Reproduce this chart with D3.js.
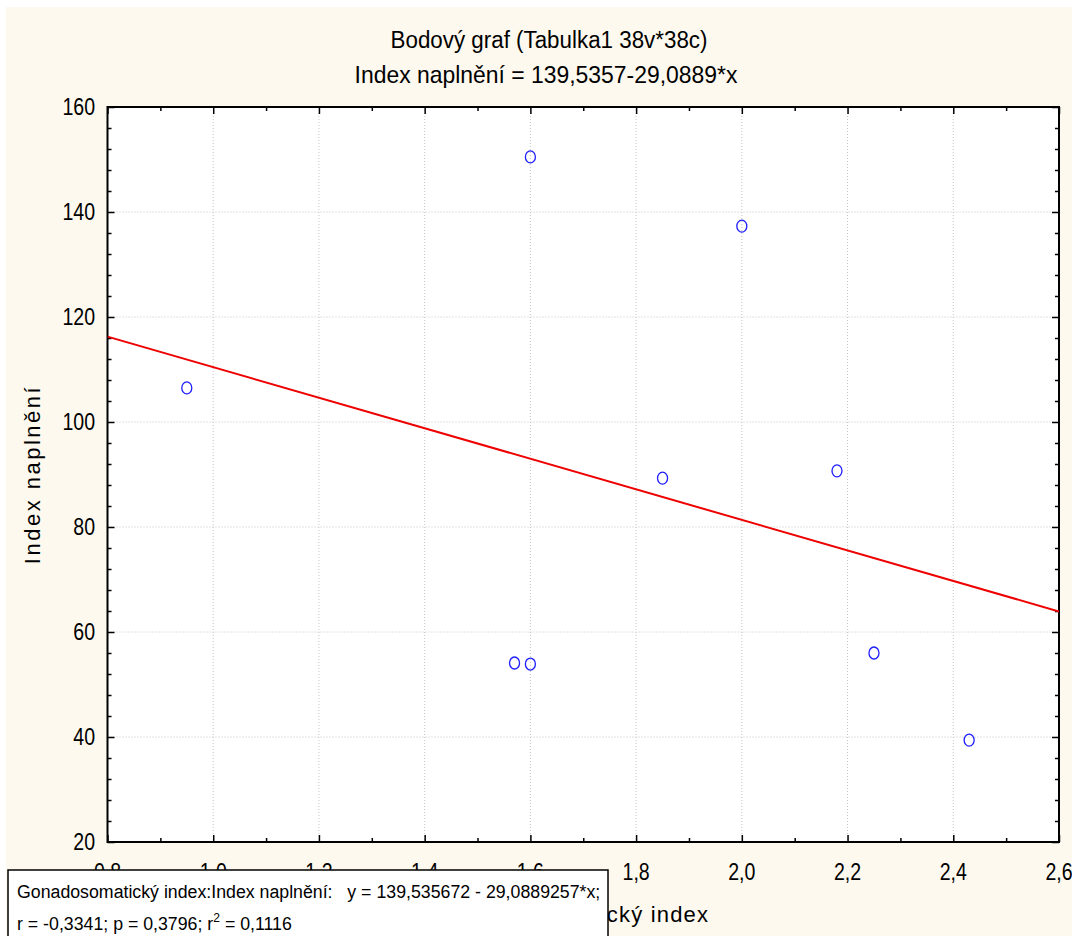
<!DOCTYPE html>
<html>
<head>
<meta charset="utf-8">
<script src="https://cdn.jsdelivr.net/npm/d3@7"></script>
<style>
  body { margin: 0; background: #ffffff; }
  svg { display: block; }
  text { font-family: "Liberation Sans", Arial, sans-serif; fill: #000; }
</style>
</head>
<body>
<div id="chart"></div>
<script>
// Data.
const gsiValues = [0.95, 1.6, 2.0, 1.85, 2.18, 1.57, 1.6, 2.25, 2.43];
const fillValues = [106.5, 150.5, 137.3, 89.3, 90.7, 54.1, 53.9, 56.0, 39.4];

// Regression coefficients printed on the chart.
const intercept = 139.535672;
const slope = -29.0889257;

const xTicks = [0.8, 1.0, 1.2, 1.4, 1.6, 1.8, 2.0, 2.2, 2.4, 2.6];
const yTicks = [20, 40, 60, 80, 100, 120, 140, 160];

const titleLines = ["Bodový graf (Tabulka1 38v*38c)", "Index naplnění = 139,5357-29,0889*x"];
const xTitle = "Gonadosomatický index";
const yTitle = "Index naplnění";
const legendLine1 = "Gonadosomatický index:Index naplnění:   y = 139,535672 - 29,0889257*x;";

// Canvas and plot area.
const W = 1072, H = 936;
const plot = { left: 107.5, right: 1059, top: 107, bottom: 842 };

const svg = d3.select("#chart").append("svg")
    .attr("width", W)
    .attr("height", H);

// Condensed text: normal font squeezed horizontally (no narrow font installed).
function squeezed(parent, px, py, sx, size, anchor) {
    return parent.append("text")
        .attr("transform", `translate(${px},${py}) scale(${sx},1)`)
        .attr("text-anchor", anchor)
        .attr("xml:space", "preserve")
        .style("font-size", size + "px");
}

// Cream background with a thin white margin on top and left.
svg.append("rect")
    .attr("x", 6).attr("y", 7)
    .attr("width", W - 6).attr("height", H - 7)
    .attr("fill", "#fdf9ee");

// Scales.
let x = d3.scaleLinear().domain([0.8, 2.6]).range([plot.left, plot.right]);
let y = d3.scaleLinear().domain([20, 160]).range([plot.bottom, plot.top]);

const comma = v => d3.format(".1f")(v).replace(".", ",");

// Plot background.
svg.append("rect")
    .attr("x", plot.left).attr("y", plot.top)
    .attr("width", plot.right - plot.left)
    .attr("height", plot.bottom - plot.top)
    .attr("fill", "#ffffff");

// Dotted grid at major ticks.
let grid = svg.append("g")
    .attr("stroke", "#c4c4c4")
    .attr("stroke-width", 1)
    .attr("stroke-dasharray", "1,2");

grid.selectAll("line.gx")
    .data(xTicks.slice(1, -1))
    .enter().append("line")
    .attr("x1", d => x(d)).attr("x2", d => x(d))
    .attr("y1", plot.top).attr("y2", plot.bottom);

grid.selectAll("line.gy")
    .data(yTicks.slice(1, -1))
    .enter().append("line")
    .attr("class", "gy")
    .attr("x1", plot.left).attr("x2", plot.right)
    .attr("y1", d => y(d)).attr("y2", d => y(d));

// Inward ticks on all four sides.
const xMinor = d3.range(0.9, 2.6, 0.2);
const yMinor = d3.range(20, 160, 4).filter(v => v % 20 !== 0);

function ticks(axis, values, size, tr) {
    svg.append("g")
        .attr("transform", tr)
        .call(axis.tickValues(values).tickSize(size).tickFormat(""))
        .call(g => g.select(".domain").remove());
}
ticks(d3.axisTop(x), xMinor, 4, `translate(0,${plot.bottom})`);
ticks(d3.axisTop(x), xTicks, 7, `translate(0,${plot.bottom})`);
ticks(d3.axisBottom(x), xMinor, 4, `translate(0,${plot.top})`);
ticks(d3.axisBottom(x), xTicks, 7, `translate(0,${plot.top})`);
ticks(d3.axisRight(y), yMinor, 4, `translate(${plot.left},0)`);
ticks(d3.axisRight(y), yTicks, 7, `translate(${plot.left},0)`);
ticks(d3.axisLeft(y), yMinor, 4, `translate(${plot.right},0)`);
ticks(d3.axisLeft(y), yTicks, 7, `translate(${plot.right},0)`);

svg.selectAll(".tick line").attr("stroke", "#000").attr("stroke-width", 1.5);

// Frame.
svg.append("rect")
    .attr("x", plot.left).attr("y", plot.top)
    .attr("width", plot.right - plot.left)
    .attr("height", plot.bottom - plot.top)
    .attr("fill", "none")
    .attr("stroke", "#000")
    .attr("stroke-width", 2);

// Tick labels.
let yLabels = svg.append("g");
yTicks.forEach(d => {
    squeezed(yLabels, 95, y(d) + 8.3, 0.85, 23, "end").text(d);
});

let xLabels = svg.append("g");
xTicks.forEach(d => {
    squeezed(xLabels, x(d), 880, 0.85, 23, "middle").text(comma(d));
});

// Titles.
squeezed(svg, 549, 48, 0.932, 24, "middle").text(titleLines[0]);
squeezed(svg, 546, 83, 0.955, 24, "middle").text(titleLines[1]);

// Axis titles (the x title sits partly behind the legend box).
svg.append("text")
    .attr("x", (plot.left + plot.right) / 2 - 4)
    .attr("y", 922)
    .attr("text-anchor", "middle")
    .style("font-size", "22px")
    .style("letter-spacing", "1.2px")
    .text(xTitle);

svg.append("text")
    .attr("transform", `translate(40,${(plot.top + plot.bottom) / 2}) rotate(-90)`)
    .attr("text-anchor", "middle")
    .style("font-size", "22px")
    .style("letter-spacing", "2.5px")
    .text(yTitle);

// Regression line, clipped to the plot.
svg.append("clipPath").attr("id", "plotClip")
    .append("rect")
    .attr("x", plot.left).attr("y", plot.top)
    .attr("width", plot.right - plot.left)
    .attr("height", plot.bottom - plot.top);

const ends = x.domain();
svg.append("line")
    .attr("clip-path", "url(#plotClip)")
    .attr("x1", x(ends[0])).attr("y1", y(intercept + slope * ends[0]))
    .attr("x2", x(ends[1])).attr("y2", y(intercept + slope * ends[1]))
    .attr("stroke", "#ee0000")
    .attr("stroke-width", 2);

// Points.
svg.append("g").selectAll("ellipse")
    .data(gsiValues.map((v, i) => [v, fillValues[i]]))
    .enter().append("ellipse")
    .attr("cx", d => x(d[0]))
    .attr("cy", d => y(d[1]))
    .attr("rx", 5)
    .attr("ry", 6)
    .attr("fill", "none")
    .attr("stroke", "#1f1fff")
    .attr("stroke-width", 1.3);

// Legend box with the regression summary.
let legend = svg.append("g");
legend.append("rect")
    .attr("x", 8).attr("y", 870)
    .attr("width", 600).attr("height", 80)
    .attr("fill", "#ffffff")
    .attr("stroke", "#000")
    .attr("stroke-width", 1.5);

squeezed(legend, 17, 898, 0.934, 19, "start").text(legendLine1);

let l2 = squeezed(legend, 17, 930, 0.934, 19, "start");
l2.append("tspan").text("r = -0,3341; p = 0,3796; r");
l2.append("tspan").attr("dy", -8).style("font-size", "13px").text("2");
l2.append("tspan").attr("dy", 8).text(" = 0,1116");
</script>
</body>
</html>
